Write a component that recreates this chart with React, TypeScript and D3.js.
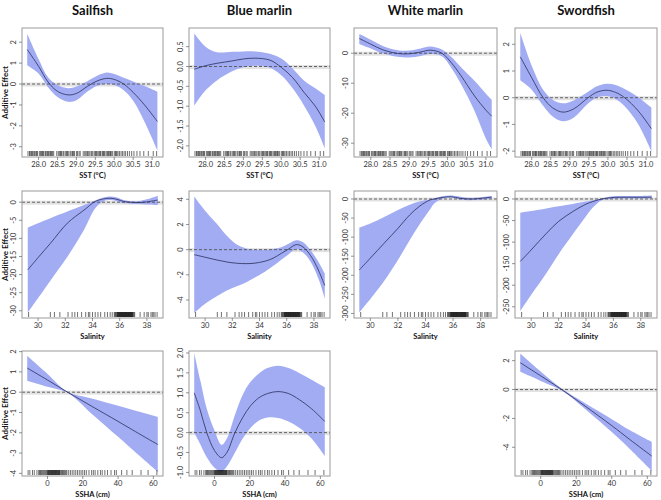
import React from "react";
import * as d3 from "d3";

// ---------- labels ----------
const SPECIES = ["Sailfish", "Blue marlin", "White marlin", "Swordfish"];
const X_LABELS = ["SST (°C)", "Salinity", "SSHA (cm)"];
const Y_LABEL = "Additive Effect";

// ---------- x data ranges & ticks ----------
const SST_RANGE = [27.7, 31.15];
const SAL_RANGE = [29.2, 38.8];
const SSHA_RANGE = [-11.5, 62.5];
const SST_TICKS = [28.0, 28.5, 29.0, 29.5, 30.0, 30.5, 31.0];
const SAL_TICKS = [30, 32, 34, 36, 38];
const SSHA_TICKS = [0, 20, 40, 60];

// ---------- rugs (observations) ----------
const SST_RUG = [27.72, 27.76, 27.78, 27.81, 27.83, 27.85, 27.88, 27.9, 27.93, 27.95, 27.97, 28.02, 28.05, 28.08, 28.1, 28.12, 28.14, 28.18, 28.2, 28.23, 28.25, 28.27, 28.3, 28.32, 28.34, 28.37, 28.4, 28.48, 28.52, 28.55, 28.58, 28.6, 28.62, 28.66, 28.7, 28.73, 28.75, 28.77, 28.8, 28.84, 28.88, 28.9, 28.92, 28.95, 29.0, 29.03, 29.07, 29.1, 29.18, 29.22, 29.25, 29.28, 29.3, 29.33, 29.36, 29.4, 29.43, 29.47, 29.5, 29.52, 29.54, 29.57, 29.6, 29.62, 29.64, 29.68, 29.7, 29.72, 29.74, 29.78, 29.81, 29.83, 29.85, 29.88, 29.9, 29.92, 29.95, 30.0, 30.03, 30.05, 30.07, 30.1, 30.14, 30.18, 30.22, 30.26, 30.3, 30.35, 30.4, 30.46, 30.52, 30.6, 30.68, 30.78, 30.9, 31.03, 31.12];
const SAL_RUG = [29.3, 30.9, 31.2, 31.6, 32.2, 32.5, 32.7, 32.9, 33.2, 33.5, 33.7, 33.8, 34.0, 34.2, 34.4, 34.6, 34.9, 35.1, 35.3, 35.45, 35.6, 35.65, 35.7, 35.75, 35.8, 35.83, 35.85, 35.88, 35.9, 35.93, 35.95, 35.98, 36.0, 36.03, 36.05, 36.08, 36.1, 36.13, 36.15, 36.18, 36.2, 36.23, 36.25, 36.28, 36.3, 36.33, 36.35, 36.38, 36.4, 36.43, 36.45, 36.48, 36.5, 36.53, 36.55, 36.58, 36.6, 36.63, 36.65, 36.68, 36.7, 36.73, 36.75, 36.78, 36.8, 36.83, 36.85, 36.88, 36.9, 36.93, 36.95, 37.0, 37.05, 37.1, 37.5, 37.8, 38.0, 38.1, 38.3, 38.4, 38.5, 38.6, 38.75];
const SSHA_RUG = [-11, -10, -8.5, -7.5, -6, -5, -4.5, -4, -3.5, -3, -2.5, -2, -1.5, -1, -0.5, 0, 0.3, 0.5, 0.8, 1, 1.3, 1.5, 1.8, 2, 2.3, 2.5, 2.8, 3, 3.3, 3.5, 3.8, 4, 4.3, 4.5, 4.8, 5, 5.3, 5.5, 5.8, 6, 6.3, 6.5, 6.8, 7, 7.5, 8, 8.5, 9, 9.5, 10, 10.5, 11, 12, 13, 14, 15, 16, 17, 18, 19, 20, 21, 22, 23.5, 25, 26, 27, 28.5, 30, 31, 32.5, 34, 36, 38, 39, 42, 45, 48, 53, 57, 62];

// ---------- Sailfish SST ----------
const sfSstX = [27.7, 28.0, 28.25, 28.5, 28.78, 29.0, 29.3, 29.55, 29.8, 30.0, 30.25, 30.5, 30.8, 31.14];
const sfSstFit = [1.65, 0.85, 0.1, -0.35, -0.52, -0.45, -0.1, 0.15, 0.27, 0.22, 0.0, -0.4, -1.0, -1.79];
const sfSstHi = [2.41, 1.2, 0.32, -0.05, -0.2, -0.12, 0.15, 0.4, 0.55, 0.48, 0.3, 0.12, -0.1, -0.37];
const sfSstLo = [0.9, 0.5, -0.15, -0.62, -0.85, -0.78, -0.35, -0.08, 0.0, -0.05, -0.3, -0.8, -1.8, -3.17];
const sfSstY = [-3.49, 2.68];
const sfSstTicks = [-3, -2, -1, 0, 1, 2];

// ---------- Blue marlin SST ----------
const bmSstX = [27.7, 28.0, 28.3, 28.7, 29.0, 29.3, 29.7, 30.0, 30.3, 30.6, 30.9, 31.15];
const bmSstFit = [-0.07, 0.02, 0.08, 0.14, 0.19, 0.21, 0.16, -0.02, -0.28, -0.65, -1.0, -1.4];
const bmSstHi = [0.84, 0.5, 0.36, 0.37, 0.38, 0.38, 0.32, 0.2, -0.05, -0.35, -0.55, -0.72];
const bmSstLo = [-0.99, -0.6, -0.35, -0.12, -0.02, 0.02, -0.03, -0.22, -0.55, -0.98, -1.5, -2.06];
const bmSstY = [-2.28, 0.97];
const bmSstTicks = [-2.0, -1.5, -1.0, -0.5, 0.0, 0.5];

// ---------- White marlin SST ----------
const wmSstX = [27.7, 28.0, 28.3, 28.7, 29.0, 29.3, 29.55, 29.85, 30.1, 30.35, 30.7, 31.0, 31.15];
const wmSstFit = [4.9, 3.0, 1.2, -0.1, -0.2, 0.4, 1.0, 0.0, -3.2, -7.5, -14.2, -19.0, -21];
const wmSstHi = [6.4, 4.5, 2.5, 1.0, 0.9, 1.6, 2.2, 1.2, -1.3, -4.7, -9.2, -13.5, -15.5];
const wmSstLo = [3.1, 1.6, 0.0, -1.2, -1.4, -0.9, -0.3, -1.0, -4.9, -10.3, -19.2, -28.5, -32];
const wmSstY = [-34.6, 8.4];
const wmSstTicks = [-30, -20, -10, 0];

// ---------- Swordfish SST ----------
const swSstX = [27.7, 28.0, 28.3, 28.55, 28.82, 29.1, 29.48, 29.7, 29.96, 30.2, 30.44, 30.8, 31.14];
const swSstFit = [1.53, 0.75, 0.0, -0.38, -0.54, -0.42, 0.0, 0.2, 0.28, 0.2, 0.0, -0.5, -1.16];
const swSstHi = [2.43, 1.2, 0.3, -0.08, -0.21, -0.1, 0.22, 0.42, 0.52, 0.48, 0.33, 0.02, -0.37];
const swSstLo = [0.65, 0.3, -0.3, -0.7, -0.88, -0.75, -0.22, 0.0, 0.06, -0.05, -0.32, -1.0, -2.0];
const swSstY = [-2.22, 2.61];
const swSstTicks = [-2, -1, 0, 1, 2];

// ---------- Sailfish Salinity ----------
const sfSalX = [29.24, 30.0, 30.9, 32.15, 33.37, 34.2, 34.8, 35.3, 35.8, 36.3, 36.8, 37.4, 38.0, 38.8];
const sfSalFit = [-18.7, -15.3, -11.4, -5.8, -2.2, 0.2, 0.9, 1.1, 0.8, 0.2, 0.0, -0.1, 0.1, 0.6];
const sfSalHi = [-7.0, -5.8, -4.4, -2.6, -0.8, 0.5, 1.3, 1.6, 1.3, 0.6, 0.3, 0.3, 0.8, 1.8];
const sfSalLo = [-30.5, -26.5, -21.7, -15.1, -7.7, -1.7, 0.3, 0.6, 0.3, -0.3, -0.4, -0.5, -0.6, -0.75];
const sfSalY = [-32.0, 3.1];
const sfSalTicks = [-30, -25, -20, -15, -10, -5, 0];

// ---------- Blue marlin Salinity ----------
const bmSalX = [29.2, 30.0, 30.86, 31.6, 32.33, 33.0, 33.6, 34.4, 35.0, 35.6, 36.1, 36.7, 37.1, 37.5, 38.0, 38.4, 38.8];
const bmSalFit = [-0.4, -0.6, -0.82, -0.98, -1.08, -1.11, -1.08, -0.92, -0.68, -0.3, 0.02, 0.4, 0.28, -0.1, -0.9, -1.8, -2.85];
const bmSalHi = [4.23, 3.1, 2.06, 1.1, 0.4, 0.1, 0.0, 0.0, 0.05, 0.2, 0.45, 0.75, 0.65, 0.3, -0.4, -1.1, -1.9];
const bmSalLo = [-5.03, -4.3, -3.7, -3.25, -2.9, -2.6, -2.25, -1.75, -1.3, -0.8, -0.4, 0.05, -0.15, -0.55, -1.45, -2.5, -3.9];
const bmSalY = [-5.43, 4.66];
const bmSalTicks = [-4, -2, 0, 2, 4];

// ---------- White marlin Salinity ----------
const wmSalX = [29.2, 30.0, 31.0, 32.0, 32.85, 33.6, 34.3, 34.65, 35.2, 35.86, 36.5, 37.2, 37.8, 38.3, 38.8];
const wmSalFit = [-186, -155, -116, -77, -42, -18, -3, 0, 4, 6, 2, 0, 1, 3, 5];
const wmSalHi = [-75, -64, -47, -29, -15, -6, -1, 2, 7, 9, 6, 3, 4, 6, 8];
const wmSalLo = [-297, -262, -215, -160, -108, -65, -29, -11, 0, 3, -1, -3, -2, -1, 1];
const wmSalY = [-312, 21];
const wmSalTicks = [-300, -250, -200, -150, -100, -50, 0];

// ---------- Swordfish Salinity ----------
const swSalX = [29.2, 30.0, 31.1, 32.0, 33.1, 34.0, 34.5, 35.15, 35.8, 36.5, 37.2, 38.0, 38.8];
const swSalFit = [-145, -118, -80, -52, -28, -12, -6, 0, 3, 4, 4, 4, 4];
const swSalHi = [-32, -28, -22, -17, -11, -6, -3, 1, 6, 7, 7, 7, 8];
const swSalLo = [-260, -222, -172, -128, -79, -40, -20, -3, 0, 1, 1, 1, 1];
const swSalY = [-276, 18.5];
const swSalTicks = [-250, -200, -150, -100, -50, 0];

// ---------- Sailfish SSHA ----------
const sfSshaX = [-11.5, 0, 11.4, 25, 40, 50, 62.5];
const sfSshaFit = [1.19, 0.6, 0.0, -0.69, -1.44, -1.95, -2.58];
const sfSshaHi = [1.79, 0.9, 0.02, -0.31, -0.67, -0.92, -1.22];
const sfSshaLo = [0.57, 0.27, -0.03, -1.06, -2.2, -2.97, -3.92];
const sfSshaY = [-4.13, 2.03];
const sfSshaTicks = [-4, -3, -2, -1, 0, 1, 2];

// ---------- Blue marlin SSHA ----------
const bmSshaX = [-11.5, -8, -4.4, 0, 4, 7, 11.6, 16, 20, 25, 30, 36, 42, 48, 55, 62.5];
const bmSshaFit = [1.0, 0.55, 0.0, -0.45, -0.63, -0.5, 0.0, 0.38, 0.65, 0.87, 0.98, 1.03, 0.98, 0.83, 0.6, 0.28];
const bmSshaHi = [2.0, 1.3, 0.6, 0.05, -0.31, -0.15, 0.45, 0.95, 1.25, 1.48, 1.62, 1.68, 1.62, 1.5, 1.33, 1.14];
const bmSshaLo = [0.0, -0.3, -0.62, -0.88, -0.98, -0.85, -0.5, -0.15, 0.1, 0.3, 0.38, 0.37, 0.28, 0.12, -0.15, -0.59];
const bmSshaY = [-1.09, 2.05];
const bmSshaTicks = [-1.0, -0.5, 0.0, 0.5, 1.0, 1.5, 2.0];

// ---------- Swordfish SSHA ----------
const swSshaX = [-11.5, 0, 11.8, 25, 40, 50, 62.5];
const swSshaFit = [1.86, 0.95, 0.0, -1.15, -2.5, -3.45, -4.61];
const swSshaHi = [2.5, 1.25, 0.07, -0.95, -2.05, -2.8, -3.62];
const swSshaLo = [1.23, 0.6, -0.07, -1.35, -2.95, -4.1, -5.63];
const swSshaY = [-5.99, 2.67];
const swSshaTicks = [-4, -2, 0, 2];

// ---------- layout ----------
const COLS = [[22, 163], [189, 330], [354, 497], [515, 657]];
const ROWS = [[28, 157], [191, 318], [351, 476]];
const FONT = "Lato, 'Open Sans', 'DejaVu Sans', sans-serif";
const BAND = "#a1acf3";
const LINE = "#2a2d5c";

const pad = (r: number[]) => {
  const d = (r[1] - r[0]) * 0.04;
  return [r[0] - d, r[1] + d];
};

type Panel = {
  row: number; col: number;
  xRange: number[]; xTicks: number[]; xDec: number; rug: number[];
  yDom: number[]; yTicks: number[]; yDec: number;
  x: number[]; fit: number[]; hi: number[]; lo: number[];
};

const PANELS: Panel[] = [
  { row: 0, col: 0, xRange: SST_RANGE, xTicks: SST_TICKS, xDec: 1, rug: SST_RUG, yDom: sfSstY, yTicks: sfSstTicks, yDec: 0, x: sfSstX, fit: sfSstFit, hi: sfSstHi, lo: sfSstLo },
  { row: 0, col: 1, xRange: SST_RANGE, xTicks: SST_TICKS, xDec: 1, rug: SST_RUG, yDom: bmSstY, yTicks: bmSstTicks, yDec: 1, x: bmSstX, fit: bmSstFit, hi: bmSstHi, lo: bmSstLo },
  { row: 0, col: 2, xRange: SST_RANGE, xTicks: SST_TICKS, xDec: 1, rug: SST_RUG, yDom: wmSstY, yTicks: wmSstTicks, yDec: 0, x: wmSstX, fit: wmSstFit, hi: wmSstHi, lo: wmSstLo },
  { row: 0, col: 3, xRange: SST_RANGE, xTicks: SST_TICKS, xDec: 1, rug: SST_RUG, yDom: swSstY, yTicks: swSstTicks, yDec: 0, x: swSstX, fit: swSstFit, hi: swSstHi, lo: swSstLo },
  { row: 1, col: 0, xRange: SAL_RANGE, xTicks: SAL_TICKS, xDec: 0, rug: SAL_RUG, yDom: sfSalY, yTicks: sfSalTicks, yDec: 0, x: sfSalX, fit: sfSalFit, hi: sfSalHi, lo: sfSalLo },
  { row: 1, col: 1, xRange: SAL_RANGE, xTicks: SAL_TICKS, xDec: 0, rug: SAL_RUG, yDom: bmSalY, yTicks: bmSalTicks, yDec: 0, x: bmSalX, fit: bmSalFit, hi: bmSalHi, lo: bmSalLo },
  { row: 1, col: 2, xRange: SAL_RANGE, xTicks: SAL_TICKS, xDec: 0, rug: SAL_RUG, yDom: wmSalY, yTicks: wmSalTicks, yDec: 0, x: wmSalX, fit: wmSalFit, hi: wmSalHi, lo: wmSalLo },
  { row: 1, col: 3, xRange: SAL_RANGE, xTicks: SAL_TICKS, xDec: 0, rug: SAL_RUG, yDom: swSalY, yTicks: swSalTicks, yDec: 0, x: swSalX, fit: swSalFit, hi: swSalHi, lo: swSalLo },
  { row: 2, col: 0, xRange: SSHA_RANGE, xTicks: SSHA_TICKS, xDec: 0, rug: SSHA_RUG, yDom: sfSshaY, yTicks: sfSshaTicks, yDec: 0, x: sfSshaX, fit: sfSshaFit, hi: sfSshaHi, lo: sfSshaLo },
  { row: 2, col: 1, xRange: SSHA_RANGE, xTicks: SSHA_TICKS, xDec: 0, rug: SSHA_RUG, yDom: bmSshaY, yTicks: bmSshaTicks, yDec: 1, x: bmSshaX, fit: bmSshaFit, hi: bmSshaHi, lo: bmSshaLo },
  { row: 2, col: 3, xRange: SSHA_RANGE, xTicks: SSHA_TICKS, xDec: 0, rug: SSHA_RUG, yDom: swSshaY, yTicks: swSshaTicks, yDec: 0, x: swSshaX, fit: swSshaFit, hi: swSshaHi, lo: swSshaLo },
];

function PanelView({ p, idx }: { p: Panel; idx: number }) {
  const [l, r] = COLS[p.col];
  const [t, b] = ROWS[p.row];
  const xs = d3.scaleLinear().domain(pad(p.xRange)).range([l, r]);
  const ys = d3.scaleLinear().domain(p.yDom).range([b, t]);
  const pts = p.x.map((x, i) => ({ x, f: p.fit[i], h: p.hi[i], lo: p.lo[i] }));
  const curve = d3.curveCatmullRom.alpha(0.5);
  const area = d3.area<any>().x((d) => xs(d.x)).y0((d) => ys(d.lo)).y1((d) => ys(d.h)).curve(curve);
  const line = d3.line<any>().x((d) => xs(d.x)).y((d) => ys(d.f)).curve(curve);
  const y0 = ys(0);
  const clipId = `clip${idx}`;
  return (
    <g>
      <defs>
        <clipPath id={clipId}>
          <rect x={l} y={t} width={r - l} height={b - t} />
        </clipPath>
      </defs>
      <g clipPath={`url(#${clipId})`}>
        <rect x={l} y={y0 - 1.5} width={r - l} height={4} fill="#e2e2e2" />
        <path d={area(pts) || ""} fill={BAND} />
        <line x1={l} x2={r} y1={y0} y2={y0} stroke="#555" strokeWidth={0.9} strokeDasharray="3,2" />
        <path d={line(pts) || ""} fill="none" stroke={LINE} strokeWidth={0.8} />
        {p.rug.map((v, i) => (
          <line key={i} x1={xs(v)} x2={xs(v)} y1={b - 1} y2={b - 6} stroke="#111" strokeWidth={0.6} />
        ))}
      </g>
      <rect x={l} y={t} width={r - l} height={b - t} fill="none" stroke="#9a9a9a" strokeWidth={1} />
      {p.xTicks.map((v, i) => (
        <g key={"xt" + i}>
          <line x1={xs(v)} x2={xs(v)} y1={b} y2={b + 3} stroke="#666" strokeWidth={0.7} />
          <text x={xs(v)} y={b + 10} textAnchor="middle" fontSize={7.5} fill="#333" fontFamily={FONT}>
            {v.toFixed(p.xDec)}
          </text>
        </g>
      ))}
      {p.yTicks.map((v, i) => (
        <g key={"yt" + i}>
          <line x1={l} x2={l - 3} y1={ys(v)} y2={ys(v)} stroke="#666" strokeWidth={0.7} />
          <text transform={`translate(${l - 6},${ys(v)}) rotate(-90)`} textAnchor="middle" fontSize={7.5} fill="#333" fontFamily={FONT}>
            {v.toFixed(p.yDec)}
          </text>
        </g>
      ))}
      <text x={(l + r) / 2} y={b + 21} textAnchor="middle" fontSize={7.5} fontWeight="bold" fill="#111" fontFamily={FONT}>
        {X_LABELS[p.row]}
      </text>
    </g>
  );
}

export default function App() {
  return (
    <svg width={661} height={500} style={{ position: "absolute", left: 0, top: 0, background: "#fff" }}>
      <rect x={0} y={0} width={661} height={500} fill="#fff" />
      {SPECIES.map((s, i) => (
        <text key={s} x={(COLS[i][0] + COLS[i][1]) / 2} y={15} textAnchor="middle" fontSize={13} fontWeight="bold" fill="#111" fontFamily={FONT}>
          {s}
        </text>
      ))}
      {ROWS.map((rw, i) => (
        <text key={"yl" + i} transform={`translate(8,${(rw[0] + rw[1]) / 2}) rotate(-90)`} textAnchor="middle" fontSize={8} fontWeight="bold" fill="#111" fontFamily={FONT}>
          {Y_LABEL}
        </text>
      ))}
      {PANELS.map((p, i) => (
        <PanelView key={i} p={p} idx={i} />
      ))}
    </svg>
  );
}
